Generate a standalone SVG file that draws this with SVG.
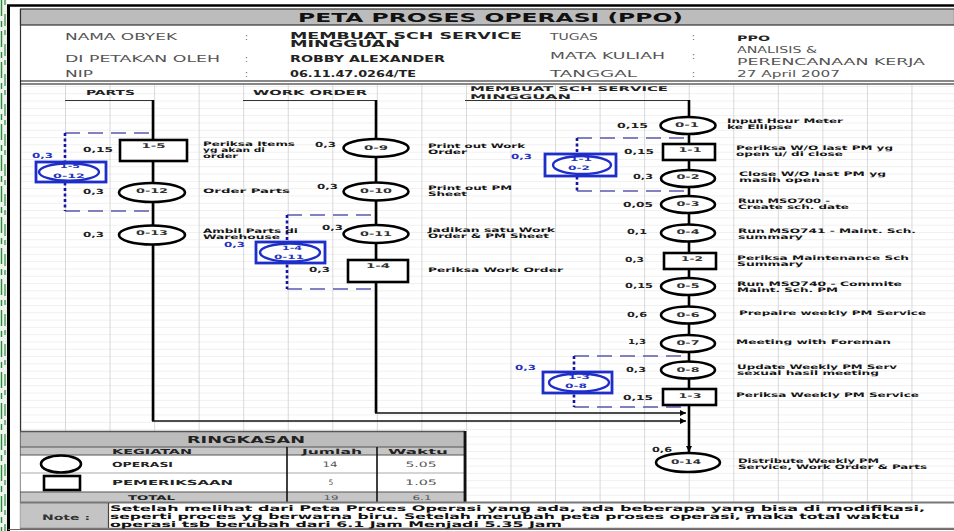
<svg xmlns="http://www.w3.org/2000/svg" width="954" height="531" viewBox="0 0 954 531">
<defs>
<style>
text{font-family:"DejaVu Sans","Liberation Sans",sans-serif}
.ttl{font-size:12.5px;font-weight:bold;fill:#111}
.hl{font-size:8.5px;fill:#555}
.hv{font-size:8.5px;font-weight:bold;fill:#222}
.lane{font-size:7px;font-weight:bold;fill:#222}
.lbl{font-size:6.2px;font-weight:bold;fill:#151515}
.num{font-size:7px;font-weight:bold;fill:#222}
.id{font-size:6.5px;font-weight:bold;fill:#333;text-anchor:middle}
.bnum{font-size:7px;font-weight:bold;fill:#2633c0}
.bid{font-size:6px;font-weight:bold;fill:#2633c0;text-anchor:middle}
.sh{font-size:7.5px;font-weight:bold;fill:#222}
.sv{font-size:7.5px;fill:#555;text-anchor:middle}
.note{font-size:7.8px;font-weight:bold;fill:#111}
.op{fill:#fff;stroke:#000;stroke-width:2.6}
.insp{fill:#fff;stroke:#000;stroke-width:2.6}
.bbox{fill:#fff;stroke:#1e2ec8;stroke-width:2.8}
.bop{fill:none;stroke:#1e2ec8;stroke-width:2.4}
.flow{fill:none;stroke:#000;stroke-width:2.6}
.link{fill:none;stroke:#111;stroke-width:1.7}
.dash{fill:none;stroke:#5a5ab0;stroke-width:1.7;stroke-dasharray:15 8}
.dot{fill:none;stroke:#1414a0;stroke-width:2.6;stroke-dasharray:3 2.5}
.ul{fill:none;stroke:#333;stroke-width:1.2}
</style>
<pattern id="grid" patternUnits="userSpaceOnUse" x="65" y="86" width="44.55" height="7.3">
<path d="M0 0.3H44.55" stroke="#e4e4e4" stroke-width="0.7"/>
<path d="M0.4 0V7.3" stroke="#d0d0d0" stroke-width="0.9"/>
</pattern>
<marker id="arr" viewBox="0 0 10 10" refX="10" refY="5" markerWidth="8" markerHeight="6" orient="auto" markerUnits="userSpaceOnUse">
<path d="M0 0L10 5L0 10z" fill="#000"/>
</marker>
</defs>

<!-- page -->
<rect x="0" y="0" width="954" height="531" fill="#fff"/>
<rect x="0" y="0" width="7" height="531" fill="#eef3ee"/>
<path d="M1.5 0V531" stroke="#2e8b3e" stroke-width="1.4" stroke-dasharray="16 5 6 4"/>
<path d="M5 0V531" stroke="#2e8b3e" stroke-width="1.2" stroke-dasharray="5 9 12 4"/>
<rect x="20" y="85" width="934" height="417" fill="url(#grid)"/>
<path d="M7 5.5H954" stroke="#000" stroke-width="2.5"/>
<path d="M8.5 5V531" stroke="#000" stroke-width="3"/>
<path d="M20.5 9V529" stroke="#333" stroke-width="1.2"/>
<path d="M8 529.5H954" stroke="#666" stroke-width="1.2"/>

<!-- header -->
<g id="header">
<rect x="20.5" y="9" width="934" height="16" fill="#bcbcbc" stroke="#333" stroke-width="1.2"/>
<text class="ttl" x="298" y="21.7" textLength="385" lengthAdjust="spacingAndGlyphs">PETA PROSES OPERASI (PPO)</text>
<text class="hl" x="65" y="40" textLength="112" lengthAdjust="spacingAndGlyphs">NAMA OBYEK</text>
<text class="hl" x="245" y="40">:</text>
<text class="hv" x="290" y="38.5" textLength="232" lengthAdjust="spacingAndGlyphs">MEMBUAT SCH SERVICE</text>
<text class="hv" x="290" y="47" textLength="110" lengthAdjust="spacingAndGlyphs">MINGGUAN</text>
<text class="hl" x="65" y="61.5" textLength="155" lengthAdjust="spacingAndGlyphs">DI PETAKAN OLEH</text>
<text class="hl" x="245" y="61.5">:</text>
<text class="hv" x="290" y="61.5" textLength="155" lengthAdjust="spacingAndGlyphs" style="font-size:8px">ROBBY ALEXANDER</text>
<text class="hl" x="65" y="77" textLength="28" lengthAdjust="spacingAndGlyphs">NIP</text>
<text class="hl" x="245" y="77">:</text>
<text class="hv" x="290" y="77" textLength="126" lengthAdjust="spacingAndGlyphs" style="font-size:8px">06.11.47.0264/TE</text>
<text class="hl" x="550" y="40" textLength="48" lengthAdjust="spacingAndGlyphs">TUGAS</text>
<text class="hl" x="692" y="40">:</text>
<text class="hv" x="737" y="40.5" textLength="33" lengthAdjust="spacingAndGlyphs" style="font-size:7.5px">PPO</text>
<text class="hl" x="550" y="59" textLength="115" lengthAdjust="spacingAndGlyphs">MATA KULIAH</text>
<text class="hl" x="692" y="59">:</text>
<text class="hl" x="737" y="52.5" textLength="80" lengthAdjust="spacingAndGlyphs">ANALISIS &amp;</text>
<text class="hl" x="737" y="64.5" textLength="188" lengthAdjust="spacingAndGlyphs">PERENCANAAN KERJA</text>
<text class="hl" x="550" y="77" textLength="87" lengthAdjust="spacingAndGlyphs">TANGGAL</text>
<text class="hl" x="692" y="77">:</text>
<text class="hl" x="737" y="77" textLength="103" lengthAdjust="spacingAndGlyphs">27 April 2007</text>
<path d="M20 81H954M20 84H954" stroke="#111" stroke-width="1.2"/>
</g>

<!-- lane headers -->
<g id="lanes">
<text class="lane" x="86" y="94.5" textLength="49" lengthAdjust="spacingAndGlyphs">PARTS</text>
<text class="lane" x="253" y="94.5" textLength="114" lengthAdjust="spacingAndGlyphs">WORK ORDER</text>
<text class="lane" x="470" y="91" textLength="198" lengthAdjust="spacingAndGlyphs" style="font-size:6.5px">MEMBUAT SCH SERVICE</text>
<text class="lane" x="470" y="99" textLength="101" lengthAdjust="spacingAndGlyphs" style="font-size:6.5px">MINGGUAN</text>
</g>

<!-- connectors -->
<g id="connectors">
<path class="ul" d="M65 100.5H153M243 100.5H376M465 100.5H689"/>
<path class="flow" d="M153 100V421"/>
<path class="flow" d="M376 100V413"/>
<path class="link" d="M152 421H686" marker-end="url(#arr)"/>
<path class="link" d="M375 413H686" marker-end="url(#arr)"/>
<path class="flow" d="M689 100V452" marker-end="url(#arr)"/>
<path class="dash" d="M65 133H153M65 211H153"/>
<path class="dot" d="M65 133V211"/>
<path class="dash" d="M287 215H376M287 289H376"/>
<path class="dot" d="M287 215V289"/>
<path class="dash" d="M577 138H689M577 191H689"/>
<path class="dot" d="M577 138V191"/>
<path class="dash" d="M574 356H689M574 407H689"/>
<path class="dot" d="M574 356V407"/>
</g>

<!-- PARTS lane -->
<g id="n-1-5">
<rect class="insp" x="120" y="140" width="67" height="21"/>
<text class="id" x="153.5" y="148" textLength="24" lengthAdjust="spacingAndGlyphs">1-5</text>
<text class="num" x="83" y="152" textLength="30" lengthAdjust="spacingAndGlyphs">0,15</text>
<text class="lbl" x="203" y="146" textLength="92" lengthAdjust="spacingAndGlyphs">Periksa Items</text>
<text class="lbl" x="203" y="152" textLength="62" lengthAdjust="spacingAndGlyphs">yg akan di</text>
<text class="lbl" x="203" y="158" textLength="35" lengthAdjust="spacingAndGlyphs">order</text>
</g>
<g id="n-0-12">
<ellipse class="op" cx="152" cy="192.5" rx="33" ry="9.5"/>
<text class="id" x="152" y="193" textLength="32" lengthAdjust="spacingAndGlyphs">0-12</text>
<text class="num" x="83" y="194" textLength="21" lengthAdjust="spacingAndGlyphs">0,3</text>
<text class="lbl" x="203" y="193" textLength="87" lengthAdjust="spacingAndGlyphs">Order Parts</text>
</g>
<g id="n-0-13">
<ellipse class="op" cx="152" cy="235" rx="33" ry="9.5"/>
<text class="id" x="152" y="235" textLength="32" lengthAdjust="spacingAndGlyphs">0-13</text>
<text class="num" x="83" y="237" textLength="21" lengthAdjust="spacingAndGlyphs">0,3</text>
<text class="lbl" x="203" y="232.5" textLength="95" lengthAdjust="spacingAndGlyphs">Ambil Parts di</text>
<text class="lbl" x="203" y="238.5" textLength="77" lengthAdjust="spacingAndGlyphs">Warehouse</text>
</g>
<g id="imp-1-5-0-12">
<rect class="bbox" x="36" y="162" width="70" height="20"/>
<ellipse class="bop" cx="69" cy="172" rx="30" ry="8.8"/>
<text class="bid" x="70" y="168" textLength="20" lengthAdjust="spacingAndGlyphs">1-5</text>
<text class="bid" x="69" y="177.5" textLength="32" lengthAdjust="spacingAndGlyphs">0-12</text>
<text class="bnum" x="32" y="158" textLength="21" lengthAdjust="spacingAndGlyphs">0,3</text>
</g>

<!-- WORK ORDER lane -->
<g id="n-0-9">
<ellipse class="op" cx="376" cy="148" rx="32.5" ry="9"/>
<text class="id" x="376" y="150" textLength="24" lengthAdjust="spacingAndGlyphs">0-9</text>
<text class="num" x="315" y="147" textLength="21" lengthAdjust="spacingAndGlyphs">0,3</text>
<text class="lbl" x="428" y="147.5" textLength="97" lengthAdjust="spacingAndGlyphs">Print out Work</text>
<text class="lbl" x="428" y="153.5" textLength="39" lengthAdjust="spacingAndGlyphs">Order</text>
</g>
<g id="n-0-10">
<ellipse class="op" cx="376" cy="191.5" rx="32.5" ry="9"/>
<text class="id" x="376" y="193" textLength="32" lengthAdjust="spacingAndGlyphs">0-10</text>
<text class="num" x="317" y="189" textLength="21" lengthAdjust="spacingAndGlyphs">0,3</text>
<text class="lbl" x="428" y="190" textLength="84" lengthAdjust="spacingAndGlyphs">Print out PM</text>
<text class="lbl" x="428" y="196" textLength="39" lengthAdjust="spacingAndGlyphs">Sheet</text>
</g>
<g id="n-0-11">
<ellipse class="op" cx="376" cy="234" rx="32.5" ry="9"/>
<text class="id" x="376" y="235.5" textLength="32" lengthAdjust="spacingAndGlyphs">0-11</text>
<text class="num" x="322" y="230" textLength="21" lengthAdjust="spacingAndGlyphs">0,3</text>
<text class="lbl" x="428" y="231.5" textLength="127" lengthAdjust="spacingAndGlyphs">Jadikan satu Work</text>
<text class="lbl" x="428" y="237.5" textLength="121" lengthAdjust="spacingAndGlyphs">Order &amp; PM Sheet</text>
</g>
<g id="n-1-4">
<rect class="insp" x="348" y="260" width="60" height="22"/>
<text class="id" x="378" y="268" textLength="24" lengthAdjust="spacingAndGlyphs">1-4</text>
<text class="num" x="309" y="272" textLength="21" lengthAdjust="spacingAndGlyphs">0,3</text>
<text class="lbl" x="428" y="272" textLength="135" lengthAdjust="spacingAndGlyphs">Periksa Work Order</text>
</g>
<g id="imp-1-4-0-11">
<rect class="bbox" x="256" y="242" width="69" height="21"/>
<ellipse class="bop" cx="290" cy="252.5" rx="30" ry="9"/>
<text class="bid" x="292" y="250" textLength="20" lengthAdjust="spacingAndGlyphs">1-4</text>
<text class="bid" x="289" y="258.5" textLength="30" lengthAdjust="spacingAndGlyphs">0-11</text>
<text class="bnum" x="224" y="247" textLength="21" lengthAdjust="spacingAndGlyphs">0,3</text>
</g>

<!-- MEMBUAT SCH SERVICE lane -->
<g id="n-0-1">
<ellipse class="op" cx="688" cy="125.5" rx="27.5" ry="8.5"/>
<text class="id" x="687" y="127" textLength="24" lengthAdjust="spacingAndGlyphs">0-1</text>
<text class="num" x="617" y="127.5" textLength="31" lengthAdjust="spacingAndGlyphs">0,15</text>
<text class="lbl" x="727" y="122.5" textLength="116" lengthAdjust="spacingAndGlyphs">Input Hour Meter</text>
<text class="lbl" x="727" y="128.5" textLength="65" lengthAdjust="spacingAndGlyphs">ke Ellipse</text>
</g>
<g id="n-1-1">
<rect class="insp" x="663" y="144" width="52" height="16"/>
<text class="id" x="690" y="152" textLength="23" lengthAdjust="spacingAndGlyphs">1-1</text>
<text class="num" x="624" y="154" textLength="30" lengthAdjust="spacingAndGlyphs">0,15</text>
<text class="lbl" x="736" y="150" textLength="157" lengthAdjust="spacingAndGlyphs">Periksa W/O last PM yg</text>
<text class="lbl" x="736" y="156" textLength="107" lengthAdjust="spacingAndGlyphs">open u/ di close</text>
</g>
<g id="n-0-2">
<ellipse class="op" cx="688" cy="178.5" rx="27" ry="8.5"/>
<text class="id" x="688" y="178.5" textLength="23" lengthAdjust="spacingAndGlyphs">0-2</text>
<text class="num" x="633" y="179" textLength="20" lengthAdjust="spacingAndGlyphs">0,3</text>
<text class="lbl" x="739" y="175.5" textLength="147" lengthAdjust="spacingAndGlyphs">Close W/O last PM yg</text>
<text class="lbl" x="739" y="181.5" textLength="81" lengthAdjust="spacingAndGlyphs">masih open</text>
</g>
<g id="n-0-3">
<ellipse class="op" cx="688" cy="204.5" rx="27" ry="8.5"/>
<text class="id" x="688" y="205.5" textLength="23" lengthAdjust="spacingAndGlyphs">0-3</text>
<text class="num" x="623" y="207" textLength="30" lengthAdjust="spacingAndGlyphs">0,05</text>
<text class="lbl" x="738" y="202.5" textLength="92" lengthAdjust="spacingAndGlyphs">Run MSO700 -</text>
<text class="lbl" x="738" y="208.5" textLength="111" lengthAdjust="spacingAndGlyphs">Create sch. date</text>
</g>
<g id="n-0-4">
<ellipse class="op" cx="688" cy="233" rx="27" ry="8.5"/>
<text class="id" x="688" y="234" textLength="23" lengthAdjust="spacingAndGlyphs">0-4</text>
<text class="num" x="627" y="234" textLength="20" lengthAdjust="spacingAndGlyphs">0,1</text>
<text class="lbl" x="738" y="232.5" textLength="178" lengthAdjust="spacingAndGlyphs">Run MSO741 - Maint. Sch.</text>
<text class="lbl" x="738" y="238.5" textLength="65" lengthAdjust="spacingAndGlyphs">summary</text>
</g>
<g id="n-1-2">
<rect class="insp" x="664" y="253" width="52" height="16"/>
<text class="id" x="692" y="261" textLength="22" lengthAdjust="spacingAndGlyphs">1-2</text>
<text class="num" x="625" y="262" textLength="19" lengthAdjust="spacingAndGlyphs">0,3</text>
<text class="lbl" x="737" y="259.5" textLength="172" lengthAdjust="spacingAndGlyphs">Periksa Maintenance Sch</text>
<text class="lbl" x="737" y="265.5" textLength="66" lengthAdjust="spacingAndGlyphs">Summary</text>
</g>
<g id="n-0-5">
<ellipse class="op" cx="688" cy="286.5" rx="27" ry="8.5"/>
<text class="id" x="688" y="287.5" textLength="23" lengthAdjust="spacingAndGlyphs">0-5</text>
<text class="num" x="625" y="288" textLength="28" lengthAdjust="spacingAndGlyphs">0,15</text>
<text class="lbl" x="737" y="285.5" textLength="165" lengthAdjust="spacingAndGlyphs">Run MSO740 - Commite</text>
<text class="lbl" x="737" y="291.5" textLength="101" lengthAdjust="spacingAndGlyphs">Maint. Sch. PM</text>
</g>
<g id="n-0-6">
<ellipse class="op" cx="688" cy="315" rx="27" ry="8.5"/>
<text class="id" x="688" y="316.5" textLength="23" lengthAdjust="spacingAndGlyphs">0-6</text>
<text class="num" x="627" y="317" textLength="20" lengthAdjust="spacingAndGlyphs">0,6</text>
<text class="lbl" x="739" y="315" textLength="187" lengthAdjust="spacingAndGlyphs">Prepaire weekly PM Service</text>
</g>
<g id="n-0-7">
<ellipse class="op" cx="688" cy="343.5" rx="27" ry="8.5"/>
<text class="id" x="688" y="344.5" textLength="23" lengthAdjust="spacingAndGlyphs">0-7</text>
<text class="num" x="628" y="344" textLength="18" lengthAdjust="spacingAndGlyphs">1,3</text>
<text class="lbl" x="736" y="344" textLength="155" lengthAdjust="spacingAndGlyphs">Meeting with Foreman</text>
</g>
<g id="n-0-8">
<ellipse class="op" cx="688" cy="370" rx="27" ry="8.5"/>
<text class="id" x="688" y="371.5" textLength="23" lengthAdjust="spacingAndGlyphs">0-8</text>
<text class="num" x="626" y="372" textLength="20" lengthAdjust="spacingAndGlyphs">0,3</text>
<text class="lbl" x="737" y="368.5" textLength="160" lengthAdjust="spacingAndGlyphs">Update Weekly PM Serv</text>
<text class="lbl" x="737" y="374.5" textLength="142" lengthAdjust="spacingAndGlyphs">sexual hasil meeting</text>
</g>
<g id="n-1-3">
<rect class="insp" x="663" y="389" width="53" height="16"/>
<text class="id" x="690" y="397.5" textLength="23" lengthAdjust="spacingAndGlyphs">1-3</text>
<text class="num" x="623" y="400" textLength="30" lengthAdjust="spacingAndGlyphs">0,15</text>
<text class="lbl" x="736" y="397" textLength="183" lengthAdjust="spacingAndGlyphs">Periksa Weekly PM Service</text>
</g>
<g id="n-0-14">
<ellipse class="op" cx="688" cy="462.5" rx="32" ry="9.5"/>
<text class="id" x="686" y="464" textLength="30" lengthAdjust="spacingAndGlyphs">0-14</text>
<text class="num" x="652" y="452" textLength="20" lengthAdjust="spacingAndGlyphs">0,6</text>
<text class="lbl" x="738" y="462.5" textLength="141" lengthAdjust="spacingAndGlyphs">Distribute Weekly PM</text>
<text class="lbl" x="738" y="468.5" textLength="189" lengthAdjust="spacingAndGlyphs">Service, Work Order &amp; Parts</text>
</g>
<g id="imp-1-1-0-2">
<rect class="bbox" x="545" y="154" width="71" height="22"/>
<ellipse class="bop" cx="582" cy="165" rx="29" ry="9"/>
<text class="bid" x="581" y="161" textLength="22" lengthAdjust="spacingAndGlyphs">1-1</text>
<text class="bid" x="579" y="169.5" textLength="22" lengthAdjust="spacingAndGlyphs">0-2</text>
<text class="bnum" x="511" y="159" textLength="21" lengthAdjust="spacingAndGlyphs">0,3</text>
</g>
<g id="imp-1-3-0-8">
<rect class="bbox" x="543" y="372" width="69" height="21"/>
<ellipse class="bop" cx="579" cy="382.5" rx="30" ry="9"/>
<text class="bid" x="579" y="379" textLength="22" lengthAdjust="spacingAndGlyphs">1-3</text>
<text class="bid" x="576" y="387.5" textLength="22" lengthAdjust="spacingAndGlyphs">0-8</text>
<text class="bnum" x="515" y="370" textLength="21" lengthAdjust="spacingAndGlyphs">0,3</text>
</g>

<!-- summary table -->
<g id="summary">
<rect x="20.5" y="431.5" width="444.5" height="15.5" fill="#bcbcbc"/>
<rect x="20.5" y="447" width="444.5" height="8" fill="#c6c6c6"/>
<rect x="20.5" y="455" width="444.5" height="37" fill="#fff"/>
<rect x="20.5" y="492" width="444.5" height="10" fill="#c6c6c6"/>
<path d="M20 431.5H465" stroke="#555" stroke-width="1.5"/>
<path d="M20 447H465M20 455H465M20 492H465" stroke="#555" stroke-width="1.2"/>
<path d="M20 473H465" stroke="#aaa" stroke-width="1"/>
<path d="M287 447V502M377 447V502" stroke="#111" stroke-width="1.6"/>
<path d="M465 431V502" stroke="#111" stroke-width="2.8"/>
<text class="sh" x="187" y="443" textLength="118" lengthAdjust="spacingAndGlyphs" style="font-size:9px">RINGKASAN</text>
<text class="sh" x="112" y="454" textLength="80" lengthAdjust="spacingAndGlyphs" style="font-size:7px">KEGIATAN</text>
<text class="sh" x="302" y="454" textLength="60" lengthAdjust="spacingAndGlyphs" style="font-size:7px">Jumlah</text>
<text class="sh" x="388" y="454" textLength="60" lengthAdjust="spacingAndGlyphs" style="font-size:7px">Waktu</text>
<ellipse class="op" cx="61" cy="464" rx="20" ry="8.5"/>
<text class="sh" x="112" y="467" textLength="61" lengthAdjust="spacingAndGlyphs" style="font-size:7px">OPERASI</text>
<text class="sv" x="330" y="467" textLength="15" lengthAdjust="spacingAndGlyphs">14</text>
<text class="sv" x="421" y="467" textLength="31" lengthAdjust="spacingAndGlyphs">5.05</text>
<rect class="insp" x="44" y="476" width="36" height="14"/>
<text class="sh" x="112" y="485" textLength="121" lengthAdjust="spacingAndGlyphs" style="font-size:7px">PEMERIKSAAN</text>
<text class="sv" x="331" y="485">5</text>
<text class="sv" x="421" y="485" textLength="32" lengthAdjust="spacingAndGlyphs">1.05</text>
<text class="sh" x="128" y="499.5" textLength="47" lengthAdjust="spacingAndGlyphs" style="font-size:6.5px">TOTAL</text>
<text class="sv" x="331" y="499.5" textLength="15" lengthAdjust="spacingAndGlyphs" style="font-size:6.5px">19</text>
<text class="sv" x="422" y="499.5" textLength="19" lengthAdjust="spacingAndGlyphs" style="font-size:6.5px">6.1</text>
</g>

<!-- note -->
<g id="note">
<rect x="20.5" y="503" width="934" height="25" fill="#fff"/>
<rect x="20.5" y="503" width="88" height="25" fill="#c4c4c4"/>
<path d="M20 502.5H954" stroke="#777" stroke-width="2"/>
<path d="M108.5 503V528" stroke="#444" stroke-width="1.2"/>
<path d="M20 528.5H954" stroke="#777" stroke-width="1.5"/>
<text class="sh" x="42" y="519.5" textLength="48" lengthAdjust="spacingAndGlyphs" style="fill:#333">Note :</text>
<text class="note" x="110" y="510.5" textLength="815" lengthAdjust="spacingAndGlyphs">Setelah melihat dari Peta Proces Operasi yang ada, ada beberapa yang bisa di modifikasi,</text>
<text class="note" x="110" y="519" textLength="790" lengthAdjust="spacingAndGlyphs">seperti proces yg berwarna biru. Setelah merubah peta proses operasi, maka total waktu</text>
<text class="note" x="110" y="527.3" textLength="452" lengthAdjust="spacingAndGlyphs">operasi tsb berubah dari 6.1 Jam Menjadi 5.35 Jam</text>
</g>
</svg>
